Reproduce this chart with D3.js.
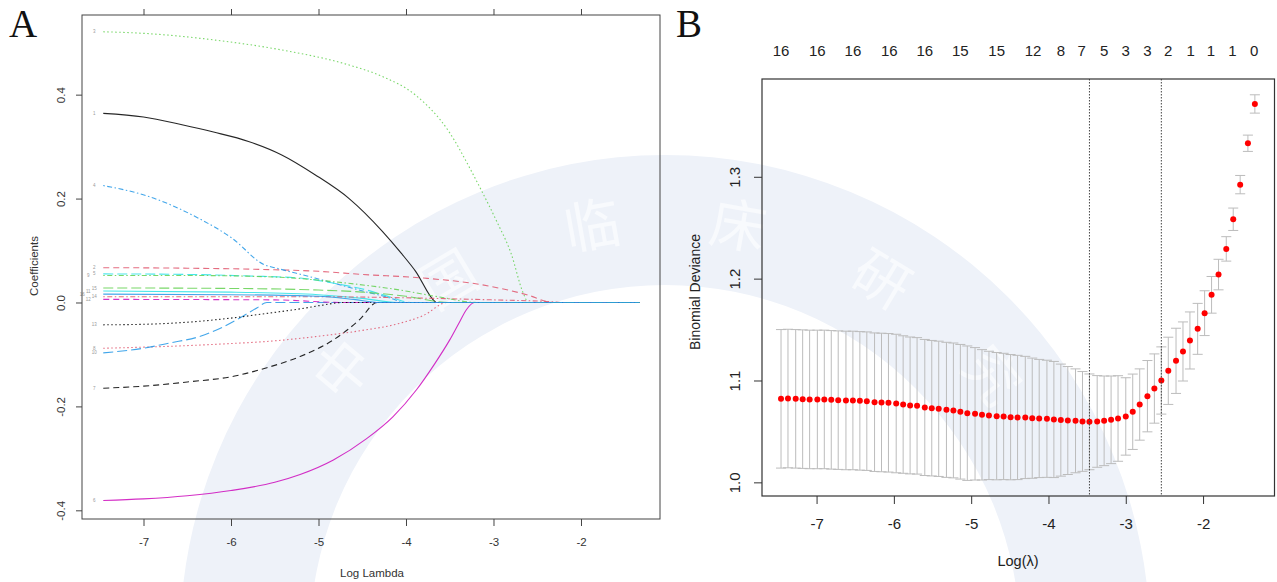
<!DOCTYPE html>
<html lang="en">
<head>
<meta charset="utf-8">
<title>LASSO coefficients and CV deviance</title>
<script src="https://cdn.jsdelivr.net/npm/d3@7"></script>
<style>
    body { margin: 0; background: #fff; }
    svg text { font-family: Arial, "Liberation Sans", sans-serif; }
</style>
</head>
<body>
<script>

// ---- Panel A: coefficient paths, [log lambda, coefficient] per variable ----
var varLabels = ["1","2","3","4","5","6","7","8","9","10","11","12","13","14","15","16"];

var path1  = [[-7.46,0.364],[-7,0.357],[-6.56,0.342],[-6.2,0.328],[-5.8,0.31],[-5.42,0.284],[-5.04,0.246],[-4.65,0.2],[-4.27,0.137],[-4.05,0.094],[-3.89,0.06],[-3.67,0.002],[-3.65,0],[-1.33,0]];
var path2  = [[-7.46,0.067],[-6.5,0.066],[-5.5,0.063],[-5,0.060],[-4.5,0.054],[-3.8,0.047],[-3.13,0.034],[-2.62,0.015],[-2.32,0],[-1.33,0]];
var path3  = [[-7.46,0.521],[-7,0.518],[-6.18,0.505],[-5.42,0.486],[-4.65,0.457],[-4.27,0.435],[-3.89,0.399],[-3.51,0.329],[-3.25,0.252],[-3.13,0.213],[-2.96,0.155],[-2.8,0.095],[-2.66,0.018],[-2.6,0],[-1.33,0]];
var path4  = [[-7.46,0.225],[-6.94,0.204],[-6.37,0.162],[-5.99,0.124],[-5.61,0.072],[-5.5,0.067],[-5.04,0.047],[-4.47,0.021],[-4.12,0.005],[-4.05,0],[-1.33,0]];
var path5  = [[-7.46,0.055],[-6.5,0.054],[-5.8,0.051],[-5.21,0.047],[-4.79,0.036],[-4.45,0.024],[-4.15,0.009],[-3.95,0],[-1.33,0]];
var path6  = [[-7.46,-0.381],[-7,-0.378],[-6.5,-0.372],[-6,-0.362],[-5.5,-0.346],[-5.21,-0.331],[-4.83,-0.303],[-4.45,-0.262],[-4.15,-0.22],[-3.88,-0.168],[-3.68,-0.12],[-3.5,-0.072],[-3.38,-0.035],[-3.31,-0.014],[-3.22,0],[-1.33,0]];
var path7  = [[-7.46,-0.165],[-7,-0.161],[-6.5,-0.153],[-5.97,-0.142],[-5.6,-0.126],[-5.21,-0.104],[-4.83,-0.072],[-4.53,-0.033],[-4.33,0],[-1.33,0]];
var path8  = [[-7.46,-0.088],[-7,-0.086],[-6.5,-0.083],[-6,-0.079],[-5.59,-0.075],[-5,-0.065],[-4.55,-0.055],[-4.07,-0.04],[-3.8,-0.025],[-3.53,0],[-1.33,0]];
var path9  = [[-7.46,0.052],[-6.5,0.052],[-5.5,0.049],[-4.83,0.04],[-4.07,0.024],[-3.6,0.01],[-3.19,0],[-1.33,0]];
var path10 = [[-7.46,-0.097],[-7,-0.088],[-6.7,-0.078],[-6.35,-0.065],[-6.1,-0.048],[-5.9,-0.03],[-5.7,-0.01],[-5.59,0],[-1.33,0]];
var path11 = [[-7.46,0.022],[-6,0.02],[-5,0.015],[-4.5,0.008],[-4.1,0],[-1.33,0]];
var path12 = [[-7.46,0.006],[-5.5,0.005],[-4.7,0],[-1.33,0]];
var path13 = [[-7.46,-0.043],[-7,-0.042],[-6.5,-0.038],[-6.05,-0.031],[-5.59,-0.021],[-5.2,-0.012],[-4.95,-0.005],[-4.72,0],[-1.33,0]];
var path14 = [[-7.46,0.011],[-5,0.011],[-4,0.009],[-3,0.005],[-2.4,0.002],[-2.2,0],[-1.33,0]];
var path15 = [[-7.46,0.028],[-6,0.027],[-5,0.024],[-4.5,0.02],[-4,0.012],[-3.5,0],[-1.33,0]];
var path16 = [[-7.46,0.016],[-6,0.015],[-5,0.012],[-4.6,0.006],[-4.3,0],[-1.33,0]];

var coefPaths = [path1,path2,path3,path4,path5,path6,path7,path8,path9,path10,path11,path12,path13,path14,path15,path16];

var xTicksA = [-7,-6,-5,-4,-3,-2];
var yTicksA = [-0.4,-0.2,0.0,0.2,0.4];

// ---- Panel B: cross-validated binomial deviance ----
var logLambda = [-7.46,-7.37,-7.27,-7.18,-7.09,-6.99,-6.90,-6.81,-6.72,-6.62,
                 -6.53,-6.44,-6.35,-6.25,-6.16,-6.07,-5.97,-5.88,-5.79,-5.70,
                 -5.60,-5.51,-5.42,-5.32,-5.23,-5.14,-5.05,-4.95,-4.86,-4.77,
                 -4.67,-4.58,-4.49,-4.40,-4.30,-4.21,-4.12,-4.02,-3.93,-3.84,
                 -3.75,-3.65,-3.56,-3.47,-3.37,-3.28,-3.19,-3.10,-3.00,-2.91,
                 -2.82,-2.72,-2.63,-2.54,-2.45,-2.35,-2.26,-2.17,-2.07,-1.98,
                 -1.89,-1.80,-1.70,-1.61,-1.52,-1.42,-1.33];

var cvMean = [1.0820,1.0823,1.0820,1.0817,1.0814,1.0814,1.0814,1.0810,1.0807,1.0804,
              1.0804,1.0800,1.0797,1.0787,1.0784,1.0781,1.0774,1.0764,1.0755,1.0751,
              1.0735,1.0728,1.0722,1.0712,1.0706,1.0693,1.0679,1.0673,1.0663,1.0657,
              1.0650,1.0647,1.0640,1.0637,1.0637,1.0630,1.0627,1.0624,1.0617,1.0611,
              1.0607,1.0604,1.0598,1.0594,1.0598,1.0604,1.0614,1.0627,1.0647,1.0693,
              1.0764,1.0846,1.0921,1.1000,1.1095,1.1193,1.1285,1.1393,1.1507,1.1661,
              1.1841,1.2040,1.2292,1.2583,1.2923,1.3329,1.3715];

var cvSd = [0.068,0.068,0.068,0.068,0.068,0.068,0.068,0.068,0.068,0.068,
            0.068,0.068,0.068,0.068,0.068,0.068,0.068,0.0675,0.0672,0.067,
            0.0668,0.0665,0.0664,0.0663,0.0662,0.0661,0.066,0.065,0.064,0.063,
            0.0625,0.062,0.0615,0.061,0.060,0.059,0.058,0.0575,0.057,0.055,
            0.053,0.051,0.049,0.047,0.045,0.044,0.043,0.042,0.038,0.037,
            0.035,0.035,0.034,0.033,0.033,0.032,0.029,0.028,0.025,0.022,
            0.018,0.015,0.012,0.011,0.009,0.008,0.009];

var lambdaMin = -3.47;
var lambda1se = -2.54;

var nzAt     = [-7.46,-6.99,-6.53,-6.06,-5.60,-5.14,-4.67,-4.20,-3.84,-3.57,-3.28,-3.00,-2.72,-2.45,-2.16,-1.90,-1.62,-1.34];
var nzLabels = ["16","16","16","16","16","15","15","12","8","7","5","3","3","2","1","1","1","0"];

var xTicksB = [-7,-6,-5,-4,-3,-2];
var yTicksB = [1.0,1.1,1.2,1.3];

// watermark text
var wmChars = ["中","国","临","床","研","究"];
var wmAngles = [-140,-121,-100,-80,-59,-39];

// R 4.x palette + glmnet line types
var palette = ["#000000","#DF536B","#61D04F","#2297E6","#28E2E5","#CD0BBC"];
var ltys = [null, "6,4", "1.5,2.5", "1.5,2.5,5,2.5", "10,4"];

var svg = d3.select("body").append("svg")
    .attr("width", 1277)
    .attr("height", 582);

//Watermark ring in the background
var wmC = [665, 640];
var ring = d3.arc().innerRadius(355).outerRadius(485).startAngle(0).endAngle(2 * Math.PI);
svg.append("path")
    .attr("d", ring())
    .attr("transform", "translate(" + wmC[0] + "," + wmC[1] + ")")
    .attr("fill", "#eef2f9");

svg.selectAll(".wm")
    .data(wmChars)
    .enter()
    .append("text")
    .attr("class", "wm")
    .attr("transform", function (d, i) {
        var a = wmAngles[i] * Math.PI / 180;
        var x = wmC[0] + 420 * Math.cos(a), y = wmC[1] + 420 * Math.sin(a);
        return "translate(" + x + "," + y + ") rotate(" + (wmAngles[i] + 90) + ")";
    })
    .attr("text-anchor", "middle")
    .attr("dy", "0.35em")
    .style("font-family", "'Noto Sans CJK SC', sans-serif")
    .style("font-size", "56px")
    .attr("fill", "#f8fafd")
    .text(function (d) { return d; });

// ================= Panel A =================
var aX = d3.scaleLinear().domain([-7.703, -1.097]).range([82, 660]);
var aY = d3.scaleLinear().domain([-0.4167, 0.5533]).range([519, 15]);

var gA = svg.append("g");

var coefLine = d3.line()
    .x(function (d) { return aX(d[0]); })
    .y(function (d) { return aY(d[1]); })
    .curve(d3.curveMonotoneX);

gA.selectAll(".coef")
    .data(coefPaths)
    .enter()
    .append("path")
    .attr("class", "coef")
    .attr("d", coefLine)
    .attr("fill", "none")
    .attr("stroke", function (d, i) { return palette[i % 6]; })
    .attr("stroke-width", 1.1)
    .attr("stroke-opacity", 0.85)
    .attr("stroke-dasharray", function (d, i) { return ltys[i % 5]; });

// variable labels at the left end of each path, nudged left when crowded
var labPos = coefPaths.map(function (p, i) { return {i: i, y: aY(p[0][1]), x: aX(p[0][0]) - 9}; })
    .sort(function (a, b) { return a.y - b.y; });
labPos.forEach(function (d, k) {
    if (k > 0 && d.y - labPos[k - 1].y < 4 && labPos[k - 1].x > d.x - 8) d.x = labPos[k - 1].x - 6;
});

gA.selectAll(".vlab")
    .data(labPos)
    .enter()
    .append("text")
    .attr("class", "vlab")
    .attr("x", function (d) { return d.x; })
    .attr("y", function (d) { return d.y; })
    .attr("dy", "0.35em")
    .attr("text-anchor", "middle")
    .style("font-size", "4.5px")
    .attr("fill", "#999")
    .text(function (d) { return varLabels[d.i]; });

gA.append("rect")
    .attr("x", 82).attr("y", 15)
    .attr("width", 660 - 82).attr("height", 519 - 15)
    .attr("fill", "none")
    .attr("stroke", "#444")
    .attr("stroke-width", 1);

var axA = gA.append("g")
    .attr("transform", "translate(0,519)")
    .call(d3.axisBottom(aX).tickValues(xTicksA).tickSize(7).tickPadding(12)
        .tickFormat(function (d) { return String(d); }));
axA.select(".domain").remove();

var axAtop = gA.append("g")
    .attr("transform", "translate(0,15)")
    .call(d3.axisTop(aX).tickValues(xTicksA).tickSize(6).tickFormat(""));
axAtop.select(".domain").remove();

var ayA = gA.append("g")
    .attr("transform", "translate(82,0)")
    .call(d3.axisLeft(aY).tickValues(yTicksA).tickSize(6)
        .tickFormat(function (d) { return d.toFixed(1); }));
ayA.select(".domain").remove();
ayA.selectAll("text")
    .attr("x", null).attr("dy", null)
    .attr("text-anchor", "middle")
    .attr("transform", "translate(-17,0) rotate(-90)");

[axA, axAtop, ayA].forEach(function (g) {
    g.selectAll("line").attr("stroke", "#444");
    g.selectAll("text").attr("fill", "#333").style("font-size", "11.5px")
        .style("font-family", "Arial, 'Liberation Sans', sans-serif");
});

gA.append("text")
    .attr("x", 372).attr("y", 577)
    .attr("text-anchor", "middle")
    .style("font-size", "11.5px")
    .attr("fill", "#333")
    .text("Log Lambda");

gA.append("text")
    .attr("transform", "translate(38,266) rotate(-90)")
    .attr("text-anchor", "middle")
    .style("font-size", "11.5px")
    .attr("fill", "#333")
    .text("Coefficients");

svg.append("text")
    .attr("x", 9).attr("y", 37)
    .style("font-family", "'Liberation Serif', 'Times New Roman', serif")
    .style("font-size", "39px")
    .attr("fill", "#111")
    .text("A");

// ================= Panel B =================
var bX = d3.scaleLinear().domain([-7.706, -1.076]).range([762, 1274.5]);
var bY = d3.scaleLinear().domain([0.9866, 1.396]).range([496, 79]);

var gB = svg.append("g");
var capW = 0.065;

var cv = logLambda.map(function (ll, i) {
    return {ll: ll, m: cvMean[i], lo: cvMean[i] - cvSd[i], hi: cvMean[i] + cvSd[i]};
});

//error bars
var eb = gB.selectAll(".eb")
    .data(cv)
    .enter()
    .append("g")
    .attr("class", "eb")
    .attr("stroke", "#bcbcbc")
    .attr("stroke-width", 1);
eb.append("line")
    .attr("x1", function (d) { return bX(d.ll); })
    .attr("x2", function (d) { return bX(d.ll); })
    .attr("y1", function (d) { return bY(d.lo); })
    .attr("y2", function (d) { return bY(d.hi); });
eb.append("line")
    .attr("x1", function (d) { return bX(d.ll - capW); })
    .attr("x2", function (d) { return bX(d.ll + capW); })
    .attr("y1", function (d) { return bY(d.hi); })
    .attr("y2", function (d) { return bY(d.hi); });
eb.append("line")
    .attr("x1", function (d) { return bX(d.ll - capW); })
    .attr("x2", function (d) { return bX(d.ll + capW); })
    .attr("y1", function (d) { return bY(d.lo); })
    .attr("y2", function (d) { return bY(d.lo); });

gB.selectAll(".pt")
    .data(cv)
    .enter()
    .append("circle")
    .attr("class", "pt")
    .attr("cx", function (d) { return bX(d.ll); })
    .attr("cy", function (d) { return bY(d.m); })
    .attr("r", 3)
    .attr("fill", "#ff0000");

gB.selectAll(".vl")
    .data([lambdaMin, lambda1se])
    .enter()
    .append("line")
    .attr("class", "vl")
    .attr("x1", function (d) { return bX(d); })
    .attr("x2", function (d) { return bX(d); })
    .attr("y1", 79).attr("y2", 496)
    .attr("stroke", "#444")
    .attr("stroke-width", 1)
    .attr("stroke-dasharray", "1.5,1.5");

gB.append("rect")
    .attr("x", 762).attr("y", 79)
    .attr("width", 1274.5 - 762).attr("height", 496 - 79)
    .attr("fill", "none")
    .attr("stroke", "#333")
    .attr("stroke-width", 1.2);

var axB = gB.append("g")
    .attr("transform", "translate(0,496)")
    .call(d3.axisBottom(bX).tickValues(xTicksB).tickSize(8).tickPadding(14)
        .tickFormat(function (d) { return String(d); }));
axB.select(".domain").remove();

var ayB = gB.append("g")
    .attr("transform", "translate(762,0)")
    .call(d3.axisLeft(bY).tickValues(yTicksB).tickSize(8)
        .tickFormat(function (d) { return d.toFixed(1); }));
ayB.select(".domain").remove();
ayB.selectAll("text")
    .attr("x", null).attr("dy", null)
    .attr("text-anchor", "middle")
    .attr("transform", "translate(-22,0) rotate(-90)");

[axB, ayB].forEach(function (g) {
    g.selectAll("line").attr("stroke", "#333");
    g.selectAll("text").attr("fill", "#222").style("font-size", "15px")
        .style("font-family", "Arial, 'Liberation Sans', sans-serif");
});

//number of non-zero coefficients on top
gB.selectAll(".nz")
    .data(nzAt)
    .enter()
    .append("text")
    .attr("class", "nz")
    .attr("x", function (d) { return bX(d); })
    .attr("y", 56)
    .attr("text-anchor", "middle")
    .style("font-size", "15px")
    .attr("fill", "#222")
    .text(function (d, i) { return nzLabels[i]; });

gB.append("text")
    .attr("x", 1018).attr("y", 566)
    .attr("text-anchor", "middle")
    .style("font-size", "14.5px")
    .attr("fill", "#222")
    .text("Log(λ)");

gB.append("text")
    .attr("transform", "translate(700,292) rotate(-90)")
    .attr("text-anchor", "middle")
    .style("font-size", "14px")
    .attr("fill", "#222")
    .text("Binomial Deviance");

svg.append("text")
    .attr("x", 676).attr("y", 37)
    .style("font-family", "'Liberation Serif', 'Times New Roman', serif")
    .style("font-size", "39px")
    .attr("fill", "#111")
    .text("B");

</script>
</body>
</html>
